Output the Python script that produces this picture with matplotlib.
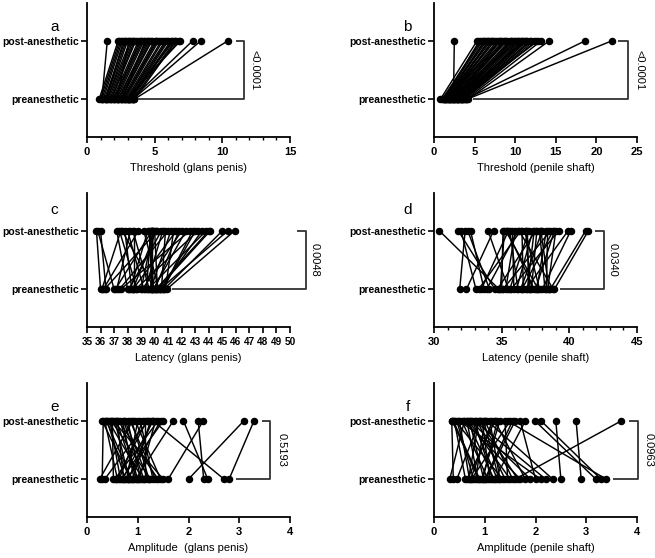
import numpy as np
import matplotlib.pyplot as plt

plt.rcParams['font.family'] = ['Liberation Sans', 'DejaVu Sans']

# a: threshold, glans penis
pre_a  = [1.1, 0.9, 1.0, 1.1, 1.2, 1.3, 1.4, 1.5, 1.5, 1.6, 1.7, 1.8, 1.8, 1.9, 2.0,
          2.0, 2.1, 2.2, 2.3, 2.3, 2.4, 2.5, 2.5, 2.6, 2.7, 2.7, 2.8, 2.9, 3.0, 3.0,
          3.1, 3.2, 3.2, 3.3, 3.4, 3.5, 2.2, 2.6, 1.4, 3.0, 2.9, 3.1, 3.3, 3.4, 3.5]
post_a = [1.5, 2.3, 2.4, 2.5, 2.6, 2.8, 2.9, 3.0, 3.2, 3.3, 3.4, 3.5, 3.6, 3.8, 3.9,
          4.0, 4.1, 4.2, 4.4, 4.5, 4.6, 4.7, 4.8, 5.0, 5.1, 5.2, 5.3, 5.5, 5.6, 5.8,
          5.9, 6.0, 6.2, 6.3, 6.5, 6.6, 3.1, 4.3, 2.7, 6.8, 6.9, 6.4, 7.8, 8.4, 10.4]

# b: threshold, penile shaft
pre_b  = [0.8, 1.0, 1.1, 1.2, 1.3, 1.4, 1.5, 1.6, 1.7, 1.8, 1.9, 2.0, 2.1, 2.2, 2.3,
          2.4, 2.5, 2.6, 2.7, 2.8, 2.9, 3.0, 3.1, 3.2, 3.3, 3.4, 3.5, 3.6, 3.7, 3.8,
          4.0, 4.2, 1.5, 2.0, 2.5, 3.0, 2.2, 2.8, 3.3, 3.9, 1.2, 1.8, 2.6, 3.5, 4.1]
post_b = [5.3, 5.8, 6.0, 6.3, 6.5, 6.8, 7.0, 7.3, 7.5, 7.8, 8.0, 8.2, 8.5, 8.7, 9.0,
          2.5, 9.3, 9.5, 9.8, 10.0, 10.2, 10.5, 10.8, 11.0, 11.3, 11.5, 11.8, 12.0, 12.3, 12.6,
          13.2, 14.2, 6.2, 7.2, 8.8, 9.6, 10.4, 11.2, 12.8, 18.6, 5.6, 6.7, 8.1, 10.7, 21.9]

# c: latency, glans penis
pre_c  = [36.0, 36.1, 36.2, 36.3, 36.4, 37.0, 37.1, 37.2, 37.4, 37.5, 38.0, 38.1, 38.2, 38.3, 38.4,
          38.5, 38.6, 38.7, 39.0, 39.1, 39.2, 39.3, 39.4, 39.5, 39.6, 39.7, 39.8, 39.9, 40.0, 40.1,
          40.2, 40.3, 40.4, 40.5, 40.6, 40.7, 40.8, 40.9, 39.7, 39.8, 40.0, 40.2, 39.9, 38.4, 40.4, 40.6]
post_c = [35.7, 37.5, 38.8, 40.2, 36.0, 35.8, 39.8, 38.2, 41.0, 42.6, 37.2, 40.5, 39.5, 37.8, 41.6,
          38.5, 43.2, 37.4, 39.9, 42.0, 38.0, 40.6, 39.7, 43.8, 38.4, 41.2, 39.8, 42.3, 37.6, 44.0,
          40.0, 39.2, 43.5, 40.8, 42.8, 45.0, 41.4, 45.9, 39.9, 39.6, 41.8, 44.1, 39.7, 40.1, 45.4, 43.0]

# d: latency, penile shaft
pre_d  = [31.9, 32.4, 33.1, 33.3, 33.5, 33.7, 33.9, 34.1, 34.5, 34.7, 34.9, 35.1, 35.3, 35.5,
          35.7, 35.9, 36.1, 36.2, 36.4, 36.6, 36.8, 37.0, 37.2, 37.4, 37.6, 37.8, 38.0, 38.2,
          38.4, 38.6, 38.8, 38.9, 35.0, 35.6, 36.5, 37.1, 37.7, 38.3, 34.8, 36.9, 37.5, 38.5]
post_d = [32.3, 34.4, 32.0, 36.4, 35.5, 32.7, 36.2, 32.5, 31.8, 37.5, 35.2, 38.6, 36.0, 34.0,
          39.2, 35.8, 37.3, 35.6, 38.0, 36.5, 39.9, 36.9, 37.6, 35.4, 38.3, 36.7, 40.1, 37.8,
          39.0, 41.2, 36.3, 41.4, 35.1, 37.0, 38.8, 36.8, 35.3, 38.4, 30.4, 37.4, 38.9, 37.9]

# e: amplitude, glans penis
pre_e  = [0.25, 0.30, 0.35, 0.52, 0.55, 0.60, 0.63, 0.66, 0.70, 0.72, 0.75, 0.78, 0.80, 0.83, 0.86,
          0.90, 0.93, 0.96, 1.00, 1.03, 1.06, 1.10, 1.15, 1.20, 1.25, 1.30, 1.35, 1.40, 1.45, 1.50,
          1.60, 2.00, 2.30, 2.38, 2.70, 2.80, 0.68, 0.88, 1.12, 0.58, 0.98, 1.22, 0.82]
post_e = [0.90, 0.32, 1.20, 0.50, 1.40, 0.35, 1.10, 0.45, 1.30, 0.60, 0.40, 1.00, 1.45, 0.55, 0.30,
          1.25, 0.70, 1.70, 0.65, 1.35, 0.80, 0.42, 1.15, 0.75, 0.48, 1.05, 0.85, 0.62, 0.95, 0.52,
          2.29, 3.09, 2.19, 1.90, 1.30, 3.29, 1.50, 0.38, 0.72, 1.18, 0.58, 0.88, 1.28]

# f: amplitude, penile shaft
pre_f  = [0.31, 0.38, 0.45, 0.62, 0.66, 0.70, 0.74, 0.78, 0.82, 0.86, 0.90, 0.94, 0.98, 1.02, 1.06,
          1.10, 1.15, 1.20, 1.25, 1.30, 1.35, 1.40, 1.45, 1.50, 1.55, 1.60, 1.65, 1.70, 1.80, 1.90,
          2.00, 2.10, 2.20, 2.34, 2.50, 2.90, 3.19, 3.29, 3.39, 0.68, 0.72, 0.88, 0.96, 1.00, 1.18, 1.28]
post_f = [0.60, 0.35, 0.90, 0.40, 1.20, 0.50, 1.50, 0.45, 1.00, 0.65, 0.38, 1.30, 0.70, 1.60, 0.55,
          0.95, 0.80, 1.80, 0.75, 1.10, 0.42, 0.85, 1.40, 0.68, 1.00, 3.69, 0.90, 0.60, 1.20, 0.72,
          1.70, 0.50, 0.80, 1.05, 2.40, 2.80, 1.99, 2.11, 1.45, 0.88, 1.15, 0.36, 1.25, 1.55, 0.66, 0.98]

letters  = ['a', 'b', 'c', 'd', 'e', 'f']
xlabels  = ['Threshold (glans penis)', 'Threshold (penile shaft)',
            'Latency (glans penis)', 'Latency (penile shaft)',
            'Amplitude  (glans penis)', 'Amplitude (penile shaft)']
pvalues  = ['<0.0001', '<0.0001', '0.0048', '0.0340', '0.5193', '0.0963']
ylabels  = ['preanesthetic', 'post-anesthetic']

pres  = [pre_a, pre_b, pre_c, pre_d, pre_e, pre_f]
posts = [post_a, post_b, post_c, post_d, post_e, post_f]

# xlim, major step, minor step, tick font size, bracket (pre start, post start, x), text x, letter y
cfg = [
    ((0, 15), 5, 1,     8.0, (3.77, 11.0, 11.6),   12.4,  0.82),
    ((0, 25), 5, None,  8.0, (4.84, 22.7, 23.85),  25.3,  0.82),
    ((35, 50), 1, None, 7.2, (41.3, 50.5, 51.16),  51.85, 0.87),
    ((30, 45), 5, 1,    8.0, (39.3, 41.9, 42.56),  43.2,  0.87),
    ((0, 4), 1, None,   8.0, (2.94, 3.44, 3.6),    3.84,  0.82),
    ((0, 4), 1, None,   8.0, (3.53, 3.85, 4.01),   4.22,  0.82),
]

W, H = 655, 558
fig = plt.figure(figsize=(W / 100, H / 100), dpi=100)

lefts = [87, 434]
tops = [3, 193, 383]
aw, ah = 203, 134

for i in range(6):
    col, row = i % 2, i // 2
    ax = fig.add_axes([lefts[col] / W, (H - tops[row] - ah) / H, aw / W, ah / H])
    pre = np.array(pres[i])
    post = np.array(posts[i])
    xs = np.vstack([pre, post])
    ys = np.vstack([np.zeros(len(pre)), np.ones(len(post))])
    ax.plot(xs, ys, '-', color='black', lw=1.05, marker='o', ms=4.4, mfc='black', mec='black')

    xlim, major, minor, tfs, br, tx, ly = cfg[i]
    ax.set_xlim(*xlim)
    ax.set_ylim(-0.65, 1.65)
    ax.set_xticks(np.arange(xlim[0], xlim[1] + 0.001, major))
    if minor:
        ax.set_xticks(np.arange(xlim[0], xlim[1] + 0.001, minor), minor=True)
    ax.set_yticks([0, 1])
    ax.set_yticklabels(ylabels, fontweight='bold', fontsize=7.5)
    for lab in ax.get_xticklabels():
        lab.set_fontweight('bold')
        lab.set_fontsize(tfs)
    ax.set_xlabel(xlabels[i], fontsize=8, labelpad=4.5)

    for s in ['top', 'right']:
        ax.spines[s].set_visible(False)
    for s in ['left', 'bottom']:
        ax.spines[s].set_linewidth(1.3)
    ax.tick_params(axis='both', which='major', length=4, width=1.2, pad=2)
    ax.tick_params(axis='x', which='major', pad=3)
    ax.tick_params(axis='x', which='minor', length=2.5, width=1.0)

    # significance bracket
    x0, x1, xb = br
    ax.plot([x0, xb, xb, x1], [0, 0, 1, 1], color='#333333', lw=1.3,
            clip_on=False, solid_capstyle='butt')
    ax.text(tx, 0.5, pvalues[i], rotation=270, ha='center', va='center',
            fontsize=8, clip_on=False)

    ax.text(-0.16 if col == 0 else -0.13, ly, letters[i], transform=ax.transAxes,
            fontsize=11, ha='center', va='center')

fig.savefig('out.png', dpi=100)
